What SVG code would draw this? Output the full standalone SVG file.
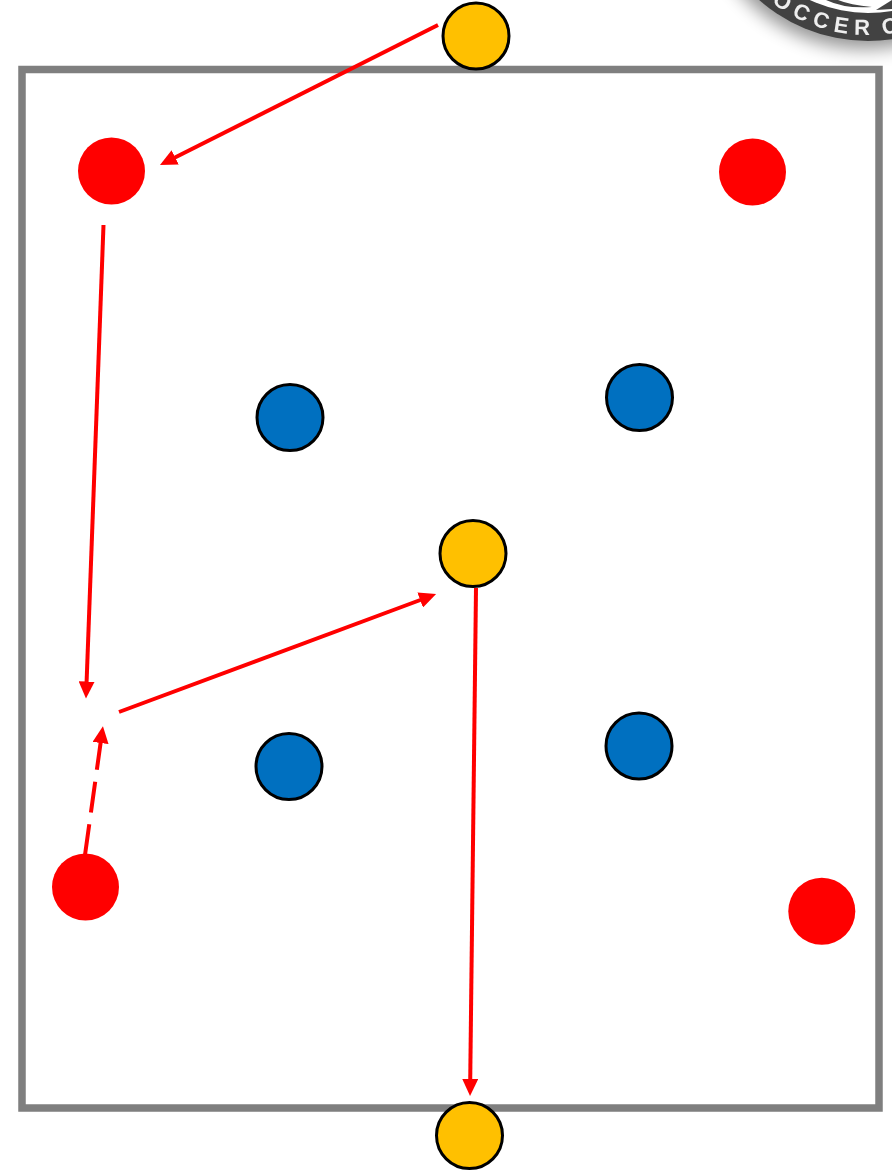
<svg xmlns="http://www.w3.org/2000/svg" width="892" height="1171" viewBox="0 0 892 1171">
<style>
.field{fill:none;stroke:#7f7f7f;stroke-width:7.500}
.red{fill:#ff0000}
.blue{fill:#0070c0;stroke:#000;stroke-width:3}
.gold{fill:#ffc000;stroke:#000;stroke-width:3}
.line{fill:none;stroke:#ff0000;stroke-width:4;marker-end:url(#arrow)}
.dash{stroke-dasharray:31 12}
.logotext{font-family:"Liberation Sans",Arial,sans-serif;font-size:22px;font-weight:700;fill:#eeeeee;letter-spacing:6.500px;word-spacing:-6px}
</style>
<defs>
<marker id="arrow" markerUnits="userSpaceOnUse" markerWidth="18" markerHeight="16" refX="3" refY="8" orient="auto">
<path d="M0 0L17 8L0 16Z" fill="#ff0000"/>
</marker>
<filter id="soft" x="-20%" y="-20%" width="140%" height="140%"><feGaussianBlur stdDeviation="9"/></filter>
<filter id="blur1" x="-5%" y="-5%" width="110%" height="110%"><feGaussianBlur stdDeviation=".6"/></filter>
<path id="logoArc" d="M709 -124A159 159 0 0 0 1027 -124"/>
</defs>
<g id="logo">
<circle cx="865" cy="-116" r="165" fill="#000" opacity=".42" filter="url(#soft)"/>
<circle cx="868" cy="-124" r="165" fill="#424242"/>
<circle cx="868" cy="-124" r="137" fill="#fff"/>
<path d="M826 0Q845 9 872 7Q850 5 838 0Z" fill="#444"/>
<path d="M876 10L892 0L892 9Z" fill="#444"/>
<text class="logotext" filter="url(#blur1)"><textPath href="#logoArc" startOffset="146">OCCER C</textPath></text>
</g>
<rect id="field" class="field" x="22" y="69.500" width="857" height="1038.500"/>
<g id="connectors">
<path class="line" d="M438 25L172.500 158.700"/>
<path class="line" d="M103.500 225L86.500 684.500"/>
<path class="line" d="M119 712L423 599"/>
<path class="line dash" d="M85 855L101 740"/>
<path class="line" d="M476 588L470.200 1082"/>
</g>
<g id="gold-top"><circle class="gold" cx="476" cy="36" r="33"/></g>
<g id="gold-mid"><circle class="gold" cx="473" cy="553.500" r="33"/></g>
<g id="gold-bottom"><circle class="gold" cx="469.500" cy="1135.500" r="33"/></g>
<g id="red-tl"><circle class="red" cx="111.500" cy="171" r="33.500"/></g>
<g id="red-tr"><circle class="red" cx="752.500" cy="172" r="33.500"/></g>
<g id="red-bl"><circle class="red" cx="85.500" cy="887" r="33.500"/></g>
<g id="red-br"><circle class="red" cx="821.800" cy="911.300" r="33.500"/></g>
<g id="blue-1"><circle class="blue" cx="290" cy="417.500" r="33"/></g>
<g id="blue-2"><circle class="blue" cx="639.500" cy="397.500" r="33"/></g>
<g id="blue-3"><circle class="blue" cx="289" cy="766.500" r="33"/></g>
<g id="blue-4"><circle class="blue" cx="639" cy="746" r="33"/></g>
</svg>
